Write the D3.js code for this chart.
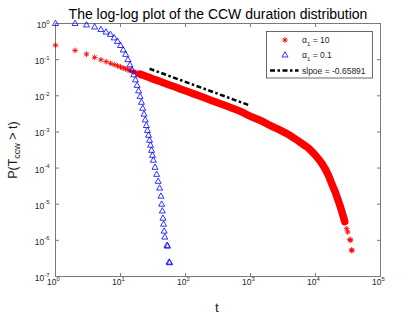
<!DOCTYPE html>
<html>
<head>
<meta charset="utf-8">
<script src="https://cdn.jsdelivr.net/npm/d3@7"></script>
<style>
body { margin: 0; background: #fff; }
svg { display: block; }
text { font-family: "Liberation Sans", Arial, sans-serif; }
</style>
</head>
<body>
<div id="app"></div>
<script>
// red series, alpha_1 = 10
const redT = [1, 2, 3, 4, 5, 6, 7, 8, 9, 10, 11, 12, 13, 14, 15, 16, 17, 18, 19, 20, 22, 24, 26, 28, 30,
    40, 50, 70, 100, 150, 200, 300, 500, 700, 1000, 1500, 2000, 3000, 4000, 5600, 7000, 8000,
    10000, 12500, 15800, 18000, 20000, 22400, 25100, 28200]
const redP = [0.25, 0.18, 0.142, 0.115, 0.099, 0.088, 0.079, 0.0726, 0.0673, 0.0627, 0.0589, 0.0556, 0.0527,
    0.0502, 0.048, 0.046, 0.0442, 0.0426, 0.041, 0.0397, 0.0373, 0.0352, 0.0334, 0.0318, 0.0303,
    0.0251, 0.0216, 0.0174, 0.0137, 0.0105, 0.0087, 0.0066, 0.0047, 0.0037, 0.0027, 0.002, 0.00151,
    0.00107, 8.1e-4, 5.4e-4, 4.1e-4, 3.4e-4, 2.24e-4, 1.35e-4, 6.3e-5, 3.5e-5, 2.24e-5, 1.26e-5,
    6.8e-6, 3.3e-6]
const redTailT = [26800, 28400, 30200, 31300, 34000, 34400, 36000, 36300]
const redTailP = [5.0e-6, 3.2e-6, 2.1e-6, 1.7e-6, 1.06e-6, 1.0e-6, 5.4e-7, 5.2e-7]

// blue series, alpha_1 = 0.1
const blueT = [1, 2, 3, 4, 5, 6, 7, 8, 9, 10, 11, 12, 13, 14, 15, 16, 17, 18, 19, 20,
    21, 22, 23, 24, 25, 26, 27, 28, 29, 30, 31, 32, 34, 36, 38, 40, 42, 43, 44, 45, 46, 47, 48, 52, 53, 56, 57]
const blueP = [1, 1, 0.91, 0.8, 0.68, 0.58, 0.5, 0.4, 0.32, 0.246, 0.185, 0.14, 0.1, 0.072, 0.052, 0.038,
    0.0276, 0.0194, 0.0137, 0.0096, 0.0066, 0.0045, 0.0031, 0.00215, 0.0015, 0.0011, 8.1e-4, 5.9e-4,
    4.3e-4, 3.1e-4, 2.25e-4, 1.65e-4, 1.05e-4, 6.7e-5, 4.3e-5, 2.8e-5, 1.67e-5, 1.0e-5, 6.5e-6, 4.1e-6,
    2.8e-6, 1.8e-6, 1.23e-6, 7.3e-7, 6.9e-7, 2.5e-7, 2.4e-7]

// fitted line, slope -0.65891
const fitT = [28, 920]
const fitP = [0.056, 0.0056]

const xTickExp = [0, 1, 2, 3, 4, 5]
const yTickExp = [-7, -6, -5, -4, -3, -2, -1, 0]
const legendLabels = [['10'], ['0.1'], ['slpoe = -0.65891']]

const width = 420, height = 315
const mLeft = 55.5, mRight = 380.5, mTop = 23.5, mBottom = 276.5

const svg = d3.select('#app').append('svg')
    .attr('width', width).attr('height', height)
    .attr('viewBox', [0, 0, width, height])

const x = d3.scaleLog().domain([1, 1e5]).range([mLeft, mRight])
const y = d3.scaleLog().domain([1e-7, 1]).range([mBottom, mTop])

const axisColor = '#7a7a7a'
const labelColor = '#262626'

// box
svg.append('rect')
    .attr('x', mLeft).attr('y', mTop)
    .attr('width', mRight - mLeft).attr('height', mBottom - mTop)
    .attr('fill', 'none').attr('stroke', axisColor).attr('stroke-width', 1)

// ticks on all four sides, inward
const tickLen = 3.5
for (const e of xTickExp) {
    const xv = x(Math.pow(10, e))
    svg.append('line').attr('x1', xv).attr('x2', xv).attr('y1', mBottom).attr('y2', mBottom - tickLen)
        .attr('stroke', axisColor)
    svg.append('line').attr('x1', xv).attr('x2', xv).attr('y1', mTop).attr('y2', mTop + tickLen)
        .attr('stroke', axisColor)
    const t = svg.append('text').attr('x', xv - 2).attr('y', 285)
        .attr('text-anchor', 'middle').attr('font-size', 8.5).attr('fill', labelColor)
    t.append('tspan').text('10')
    t.append('tspan').attr('dy', -4.5).attr('font-size', 6).text(e)
}
for (const e of yTickExp) {
    const yv = y(Math.pow(10, e))
    svg.append('line').attr('x1', mLeft).attr('x2', mLeft + tickLen).attr('y1', yv).attr('y2', yv)
        .attr('stroke', axisColor)
    svg.append('line').attr('x1', mRight).attr('x2', mRight - tickLen).attr('y1', yv).attr('y2', yv)
        .attr('stroke', axisColor)
    const t = svg.append('text').attr('x', 49.5).attr('y', yv + 4.5)
        .attr('text-anchor', 'end').attr('font-size', 8.5).attr('fill', labelColor)
    t.append('tspan').text('10')
    t.append('tspan').attr('dy', -4.5).attr('font-size', 6).text(e)
}

// red band + star markers
const red = redT.map((t, i) => [t, redP[i]])
const redTail = redTailT.map((t, i) => [t, redTailP[i]])
const line = d3.line().x(d => x(d[0])).y(d => y(d[1])).curve(d3.curveMonotoneX)

svg.append('path')
    .attr('d', line(red.filter(d => d[0] >= 20)))
    .attr('fill', 'none').attr('stroke', '#ff0000')
    .attr('stroke-width', 7.5).attr('stroke-linecap', 'round').attr('stroke-linejoin', 'round')

const star = 'M-2.8,0H2.8M0,-2.8V2.8M-2,-2L2,2M-2,2L2,-2'
svg.append('g').selectAll('path')
    .data(red.concat(redTail))
    .enter().append('path')
    .attr('transform', d => `translate(${x(d[0])},${y(d[1])})`)
    .attr('d', star)
    .attr('fill', 'none').attr('stroke', '#ff0000').attr('stroke-width', 0.9)

// blue triangles
const tri = 'M0,-3.3L3,2L-3,2Z'
svg.append('g').selectAll('path')
    .data(blueT.map((t, i) => [t, blueP[i]]))
    .enter().append('path')
    .attr('transform', d => `translate(${x(d[0])},${y(d[1])})`)
    .attr('d', tri)
    .attr('fill', 'none').attr('stroke', '#0000ff').attr('stroke-width', 0.8)

// fitted line
svg.append('path')
    .attr('d', d3.line().x(d => x(d[0])).y(d => y(d[1]))(fitT.map((t, i) => [t, fitP[i]])))
    .attr('fill', 'none').attr('stroke', '#000').attr('stroke-width', 2.5)
    .attr('stroke-dasharray', '5,2.5,2.5,2.5')

// title and axis labels
svg.append('text').attr('x', 218).attr('y', 19)
    .attr('text-anchor', 'middle').attr('font-size', 14).attr('fill', '#000')
    .text('The log-log plot of the CCW duration distribution')

svg.append('text').attr('x', 217).attr('y', 312)
    .attr('text-anchor', 'middle').attr('font-size', 13.5).attr('fill', '#1a1a1a')
    .text('t')

const yl = svg.append('text')
    .attr('transform', 'translate(17,150) rotate(-90)')
    .attr('text-anchor', 'middle').attr('font-size', 12.5).attr('fill', '#1a1a1a')
yl.append('tspan').text('P(T')
yl.append('tspan').attr('dy', 3).attr('font-size', 9).text('ccw')
yl.append('tspan').attr('dy', -3).text(' > t)')

// legend
const lg = svg.append('g')
lg.append('rect').attr('x', 266.5).attr('y', 31.5).attr('width', 106).attr('height', 46.5)
    .attr('fill', '#fff').attr('stroke', '#444').attr('stroke-width', 0.8)
const rowY = [40, 55, 70.5]
lg.append('path').attr('transform', `translate(285,${rowY[0]})`).attr('d', star)
    .attr('fill', 'none').attr('stroke', '#ff0000').attr('stroke-width', 0.9)
lg.append('path').attr('transform', `translate(285,${rowY[1]})`).attr('d', tri)
    .attr('fill', 'none').attr('stroke', '#0000ff').attr('stroke-width', 0.8)
lg.append('line').attr('x1', 270).attr('x2', 298.5).attr('y1', rowY[2]).attr('y2', rowY[2])
    .attr('stroke', '#000').attr('stroke-width', 2.5).attr('stroke-dasharray', '5,2.5,2.5,2.5')
legendLabels.forEach((lab, i) => {
    const t = lg.append('text').attr('x', 302).attr('y', rowY[i] + 3)
        .attr('font-size', 8.5).attr('fill', labelColor)
    if (i < 2) {
        t.append('tspan').text('α')
        t.append('tspan').attr('dy', 2.5).attr('font-size', 6).text('1')
        t.append('tspan').attr('dy', -2.5).text(' = ' + lab[0])
    } else {
        t.text(lab[0])
    }
})
</script>
</body>
</html>
